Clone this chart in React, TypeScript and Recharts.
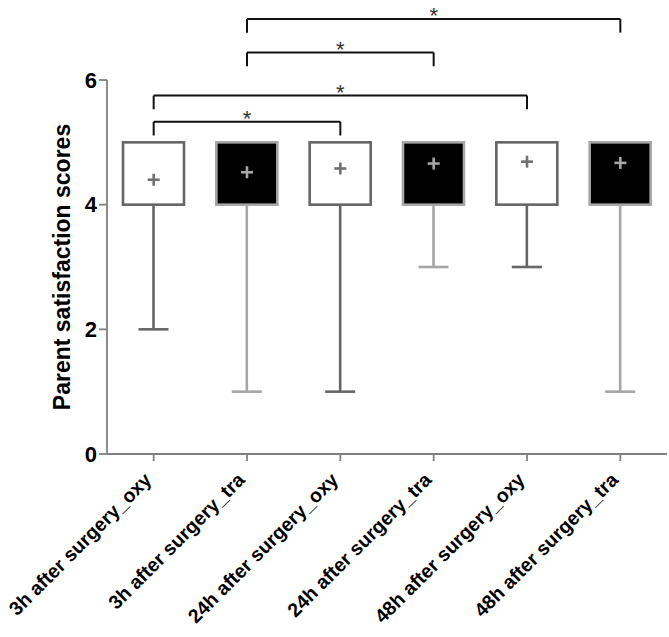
import React from "react";
import { ComposedChart, Bar, Scatter, XAxis, YAxis, ReferenceLine } from "recharts";

const groups = [
  "3h after surgery_oxy",
  "3h after surgery_tra",
  "24h after surgery_oxy",
  "24h after surgery_tra",
  "48h after surgery_oxy",
  "48h after surgery_tra",
];
const minValues = [2, 1, 1, 3, 3, 1];
const q1Values = [4, 4, 4, 4, 4, 4];
const q3Values = [5, 5, 5, 5, 5, 5];
const meanValues = [4.4, 4.52, 4.58, 4.66, 4.69, 4.67];
const yTicks = [0, 2, 4, 6];

// significance brackets: group index pairs and bracket height (score units)
const pairs = [
  [0, 2],
  [0, 4],
  [1, 3],
  [1, 5],
];
const bracketLevels = [5.33, 5.75, 6.44, 6.98];
const bracketDrop = 0.22;

const FONT = "'Liberation Sans', Arial, Helvetica, sans-serif";
const AXIS = "#808080";
const DARK_EDGE = "#666666";
const LIGHT_EDGE = "#a6a6a6";

const data = groups.map((g, i) => ({
  group: g,
  dark: g.endsWith("_tra"),
  base: minValues[i],
  whisker: q1Values[i] - minValues[i],
  box: q3Values[i] - q1Values[i],
  mean: meanValues[i],
}));

const BoxShape = (props: any) => {
  const { x, y, width, height, payload } = props;
  const dark = payload.dark;
  return (
    <rect
      x={x}
      y={y}
      width={width}
      height={height}
      fill={dark ? "#000" : "#fff"}
      stroke={dark ? LIGHT_EDGE : DARK_EDGE}
      strokeWidth={2.6}
    />
  );
};

const WhiskerShape = (props: any) => {
  const { x, y, width, height, payload } = props;
  const c = payload.dark ? LIGHT_EDGE : DARK_EDGE;
  const cx = x + width / 2;
  return (
    <g stroke={c} strokeWidth={2.6}>
      <line x1={cx} x2={cx} y1={y} y2={y + height} />
      <line x1={cx - 15} x2={cx + 15} y1={y + height} y2={y + height} />
    </g>
  );
};

const MeanShape = (props: any) => {
  const { cx, cy, payload } = props;
  const c = payload.dark ? LIGHT_EDGE : "#707070";
  return (
    <g stroke={c} strokeWidth={2.6}>
      <line x1={cx - 6} x2={cx + 6} y1={cy} y2={cy} />
      <line x1={cx} x2={cx} y1={cy - 6} y2={cy + 6} />
    </g>
  );
};

const XTick = (props: any) => {
  const { x, payload } = props;
  return (
    <g transform={`translate(${x - 1},481)`}>
      <text
        transform="rotate(-45)"
        textAnchor="end"
        fontFamily={FONT}
        fontWeight="bold"
        fontSize={19.5}
        fill="#000"
      >
        {payload.value}
      </text>
    </g>
  );
};

export default function App() {
  return (
    <div style={{ width: 669, height: 637, background: "#fff" }}>
      <style>{`body{margin:0;}`}</style>
      <ComposedChart
        width={669}
        height={637}
        data={data}
        margin={{ top: 80, right: 2, bottom: 0, left: 17 }}
      >
        <XAxis
          dataKey="group"
          height={183}
          interval={0}
          tick={<XTick />}
          tickSize={7}
          axisLine={{ stroke: AXIS, strokeWidth: 1.8 }}
          tickLine={{ stroke: AXIS, strokeWidth: 1.8 }}
        />
        <YAxis
          width={90}
          domain={[0, 6]}
          ticks={yTicks}
          tickSize={8}
          tickMargin={2}
          axisLine={{ stroke: AXIS, strokeWidth: 1.8 }}
          tickLine={{ stroke: AXIS, strokeWidth: 1.8 }}
          tick={{ fill: "#000", fontSize: 22, fontWeight: "bold", fontFamily: FONT }}
          label={{
            value: "Parent satisfaction scores",
            angle: -90,
            position: "center",
            fill: "#000",
            fontSize: 23,
            fontWeight: "bold",
            fontFamily: FONT,
          }}
        />
        <Bar dataKey="base" stackId="b" barSize={61} fill="none" shape={() => null} isAnimationActive={false} />
        <Bar dataKey="whisker" stackId="b" barSize={61} shape={<WhiskerShape />} isAnimationActive={false} />
        <Bar dataKey="box" stackId="b" barSize={61} shape={<BoxShape />} isAnimationActive={false} />
        <Scatter dataKey="mean" shape={<MeanShape />} isAnimationActive={false} />
        {pairs.map(([a, b], i) => (
          <ReferenceLine
            key={`h${i}`}
            ifOverflow="visible"
            segment={[
              { x: groups[a], y: bracketLevels[i] },
              { x: groups[b], y: bracketLevels[i] },
            ]}
            stroke="#111"
            strokeWidth={2}
            label={{ value: "*", position: "top", offset: -4, fontSize: 22, fill: "#333", fontFamily: FONT }}
          />
        ))}
        {pairs.flatMap(([a, b], i) =>
          [a, b].map((g) => (
            <ReferenceLine
              key={`v${i}-${g}`}
              ifOverflow="visible"
              segment={[
                { x: groups[g], y: bracketLevels[i] },
                { x: groups[g], y: bracketLevels[i] - bracketDrop },
              ]}
              stroke="#111"
              strokeWidth={2}
            />
          ))
        )}
      </ComposedChart>
    </div>
  );
}
